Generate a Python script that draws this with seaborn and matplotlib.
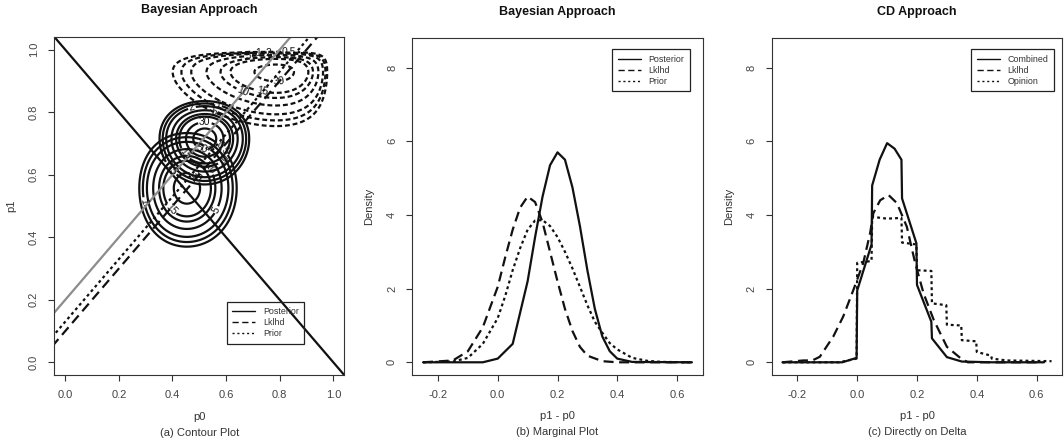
import math
import numpy as np
import pandas as pd
import seaborn as sns
import matplotlib
matplotlib.use("Agg")
import matplotlib.pyplot as plt
from matplotlib.lines import Line2D

blob_p0_mean = [0.52, 0.455, 0.75]
blob_p0_sd = [0.054, 0.062, 0.105]
blob_p1_mean = [0.711, 0.555, 0.909]
blob_p1_sd = [0.043, 0.062, 0.043]
blob_dotted = [False, False, True]
contour_levels = [0.5, 1, 2, 5, 10, 15, 30, 50]

# straight lines p1 = a + b * p0
line_a = [1.0, 0.2, 0.1, 0.13]
line_b = [-1, 1, 1, 1]
line_kind = ["black", "gray", "dashed", "dotted"]

# ---- panel (b): marginal densities of p1 - p0
post_x = [-0.25, -0.05, 0.0, 0.05, 0.1, 0.125, 0.15, 0.175, 0.2, 0.225, 0.25,
          0.275, 0.3, 0.325, 0.35, 0.375, 0.4, 0.45, 0.65]
post_y = [0, 0.0, 0.1, 0.5, 2.2, 3.4, 4.5, 5.35, 5.7, 5.5, 4.75,
          3.7, 2.5, 1.45, 0.7, 0.3, 0.1, 0.01, 0]
lk_x = [-0.25, -0.15, -0.1, -0.05, 0.0, 0.025, 0.05, 0.075, 0.1, 0.125, 0.15,
        0.175, 0.2, 0.225, 0.25, 0.275, 0.3, 0.35, 0.4, 0.65]
lk_y = [0, 0.05, 0.3, 0.95, 2.05, 2.85, 3.6, 4.2, 4.5, 4.35, 3.8,
        3.0, 2.2, 1.45, 0.85, 0.42, 0.18, 0.03, 0, 0]
pr_x = [-0.25, -0.15, -0.1, -0.05, 0.0, 0.025, 0.05, 0.075, 0.1, 0.125, 0.15,
        0.175, 0.2, 0.225, 0.25, 0.275, 0.3, 0.325, 0.35, 0.375, 0.4, 0.45,
        0.5, 0.55, 0.65]
pr_y = [0, 0.02, 0.12, 0.5, 1.2, 1.8, 2.5, 3.1, 3.6, 3.85, 3.86,
        3.7, 3.4, 3.0, 2.55, 2.05, 1.55, 1.1, 0.8, 0.52, 0.35, 0.12,
        0.04, 0.01, 0]

# ---- panel (c): CD approach, directly on delta
cmb_x = [-0.25, -0.05, -0.002, 0.0, 0.048, 0.05, 0.075, 0.1, 0.125, 0.148,
         0.15, 0.198, 0.2, 0.248, 0.25, 0.3, 0.35, 0.45, 0.625]
cmb_y = [0, 0, 0.12, 1.95, 3.2, 4.8, 5.5, 5.95, 5.8, 5.5,
         4.45, 3.23, 2.1, 1.1, 0.65, 0.14, 0.02, 0, 0]
lk2_x = [-0.25, -0.18, -0.15, -0.125, -0.08, -0.047, -0.013, 0.02, 0.043,
         0.054, 0.077, 0.105, 0.133, 0.166, 0.194, 0.222, 0.256, 0.3, 0.346,
         0.37, 0.62]
lk2_y = [0, 0.05, 0.05, 0.15, 0.7, 1.24, 1.96, 2.69, 3.5,
         4.05, 4.4, 4.54, 4.32, 3.68, 2.69, 1.87, 1.15, 0.42, 0.11,
         0, 0]
op_x = [-0.25, -0.06, -0.002, 0.0, 0.048, 0.05, 0.1, 0.148, 0.15, 0.198, 0.2,
        0.248, 0.25, 0.298, 0.3, 0.348, 0.35, 0.398, 0.4, 0.448, 0.45, 0.5,
        0.65]
op_y = [0, 0, 0.1, 2.7, 2.75, 3.95, 3.9, 3.92, 3.25, 3.2, 2.5,
        2.48, 1.6, 1.55, 1.02, 1.0, 0.6, 0.57, 0.28, 0.18, 0.1, 0.05,
        0.03]

sns.set_style("ticks")
plt.rcParams["font.family"] = ["Liberation Sans", "DejaVu Sans"]
plt.rcParams["axes.edgecolor"] = "#333333"
plt.rcParams["axes.linewidth"] = 0.8
plt.rcParams["xtick.color"] = "#333333"
plt.rcParams["ytick.color"] = "#333333"
plt.rcParams["xtick.labelcolor"] = "#444444"
plt.rcParams["ytick.labelcolor"] = "#444444"

INK = "#111111"
LW = 1.6
DASH = (4.5, 2.5)
DOT = (1.3, 1.4)

fig = plt.figure(figsize=(10.64, 4.42), dpi=100)
W, H = 1064, 442
def box(l, r, t, b):
    return [l / W, (H - b) / H, (r - l) / W, (b - t) / H]

ax_a = fig.add_axes(box(54.3, 344.3, 36.7, 375))
ax_b = fig.add_axes(box(412.3, 702.7, 38, 375))
ax_c = fig.add_axes(box(771.7, 1062.3, 38, 375))


def dress(ax, title, xlab, sub, ylab):
    ax.tick_params(direction="out", length=4.5, width=0.8, pad=6.5, labelsize=8)
    for lab in ax.get_yticklabels():
        lab.set_rotation(90)
        lab.set_va("center")
    ax.text(0.5, 1.078, title, transform=ax.transAxes, ha="center", va="center",
            fontsize=9, fontweight="bold", color="#111111")
    ax.text(0.5, -0.123, xlab, transform=ax.transAxes, ha="center", va="center",
            fontsize=8, color="#333333")
    ax.text(0.5, -0.17, sub, transform=ax.transAxes, ha="center", va="center",
            fontsize=8, color="#333333")
    ax.text(-0.148, 0.5, ylab, transform=ax.transAxes, ha="center", va="center",
            rotation=90, fontsize=8, color="#333333")
    ax.set_xlabel("")
    ax.set_ylabel("")


def legend(ax, labels, anchor, loc):
    hs = [Line2D([], [], color=INK, lw=1.0, linestyle="-"),
          Line2D([], [], color=INK, lw=1.0, dashes=(4.5, 2.5)),
          Line2D([], [], color=INK, lw=1.0, dashes=(1.5, 2.0))]
    lg = ax.legend(hs, labels, loc=loc, bbox_to_anchor=anchor, fontsize=6.4,
                   frameon=True, fancybox=False, framealpha=1, edgecolor="#222222",
                   handlelength=2.6, labelspacing=0.22, borderpad=0.6,
                   handletextpad=0.9, borderaxespad=0)
    lg.get_frame().set_linewidth(0.9)
    lg.get_frame().set_facecolor("none")
    for t in lg.get_texts():
        t.set_color("#333333")


def beta_ab(m, s):
    k = m * (1 - m) / s ** 2 - 1
    return m * k, (1 - m) * k


def beta_pdf(x, a, b):
    lb = math.lgamma(a) + math.lgamma(b) - math.lgamma(a + b)
    out = np.zeros_like(x)
    ok = (x > 0) & (x < 1)
    out[ok] = np.exp((a - 1) * np.log(x[ok]) + (b - 1) * np.log(1 - x[ok]) - lb)
    return out

# ---- (a) contour plot
g = np.linspace(-0.05, 1.05, 500)
P0, P1 = np.meshgrid(g, g)
for mx, sx, my, sy, dotted in zip(blob_p0_mean, blob_p0_sd, blob_p1_mean,
                                  blob_p1_sd, blob_dotted):
    a0, b0 = beta_ab(mx, sx)
    a1, b1 = beta_ab(my, sy)
    Z = beta_pdf(P0, a0, b0) * beta_pdf(P1, a1, b1)
    lv = [l for l in contour_levels if l < Z.max()]
    cs = ax_a.contour(P0, P1, Z, levels=lv, colors=INK, linewidths=LW)
    if dotted:
        cs.set_linestyle((0, (2.2, 1.3)))
    ax_a.clabel(cs, fmt="%g", fontsize=7.5, inline=True, inline_spacing=1,
                colors=INK)

xs = np.array([-0.05, 1.05])
for a, b, k in zip(line_a, line_b, line_kind):
    df = pd.DataFrame({"p0": xs, "p1": a + b * xs})
    if k == "black":
        sns.lineplot(data=df, x="p0", y="p1", ax=ax_a, color=INK, lw=LW)
    elif k == "gray":
        sns.lineplot(data=df, x="p0", y="p1", ax=ax_a, color="#8c8c8c", lw=LW)
    elif k == "dashed":
        sns.lineplot(data=df, x="p0", y="p1", ax=ax_a, color=INK, lw=LW, dashes=DASH)
    else:
        sns.lineplot(data=df, x="p0", y="p1", ax=ax_a, color=INK, lw=LW, dashes=DOT)

ax_a.set_xlim(-0.041, 1.041)
ax_a.set_ylim(-0.0406, 1.0415)
ax_a.set_xticks(np.arange(0, 1.01, 0.2))
ax_a.set_yticks(np.arange(0, 1.01, 0.2))
ax_a.set_xticklabels(["0.0", "0.2", "0.4", "0.6", "0.8", "1.0"])
ax_a.set_yticklabels(["0.0", "0.2", "0.4", "0.6", "0.8", "1.0"])
dress(ax_a, "Bayesian Approach", "p0", "(a) Contour Plot", "p1")
legend(ax_a, ["Posterior", "Lklhd", "Prior"], (0.594, 0.093), "lower left")


# ---- (b) and (c) density curves
def curve(ax, x, y, dashes):
    df = pd.DataFrame({"d": x, "dens": y})
    kw = dict(data=df, x="d", y="dens", ax=ax, color=INK, lw=LW,
              sort=False, estimator=None)
    if dashes is not None:
        kw["dashes"] = dashes
    sns.lineplot(**kw)

curve(ax_b, post_x, post_y, None)
curve(ax_b, lk_x, lk_y, DASH)
curve(ax_b, pr_x, pr_y, DOT)

curve(ax_c, cmb_x, cmb_y, None)
curve(ax_c, lk2_x, lk2_y, DASH)
curve(ax_c, op_x, op_y, DOT)

for ax in (ax_b, ax_c):
    ax.set_xlim(-0.286, 0.686)
    ax.set_ylim(-0.345, 8.805)
    ax.set_xticks([-0.2, 0.0, 0.2, 0.4, 0.6])
    ax.set_xticklabels(["-0.2", "0.0", "0.2", "0.4", "0.6"])
    ax.set_yticks([0, 2, 4, 6, 8])

dress(ax_b, "Bayesian Approach", "p1 - p0", "(b) Marginal Plot", "Density")
dress(ax_c, "CD Approach", "p1 - p0", "(c) Directly on Delta", "Density")
legend(ax_b, ["Posterior", "Lklhd", "Prior"], (0.956, 0.966), "upper right")
legend(ax_c, ["Combined", "Lklhd", "Opinion"], (0.971, 0.966), "upper right")

for ax in (ax_a, ax_b, ax_c):
    for s in ax.spines.values():
        s.set_visible(True)

fig.savefig("out.png", dpi=100)
